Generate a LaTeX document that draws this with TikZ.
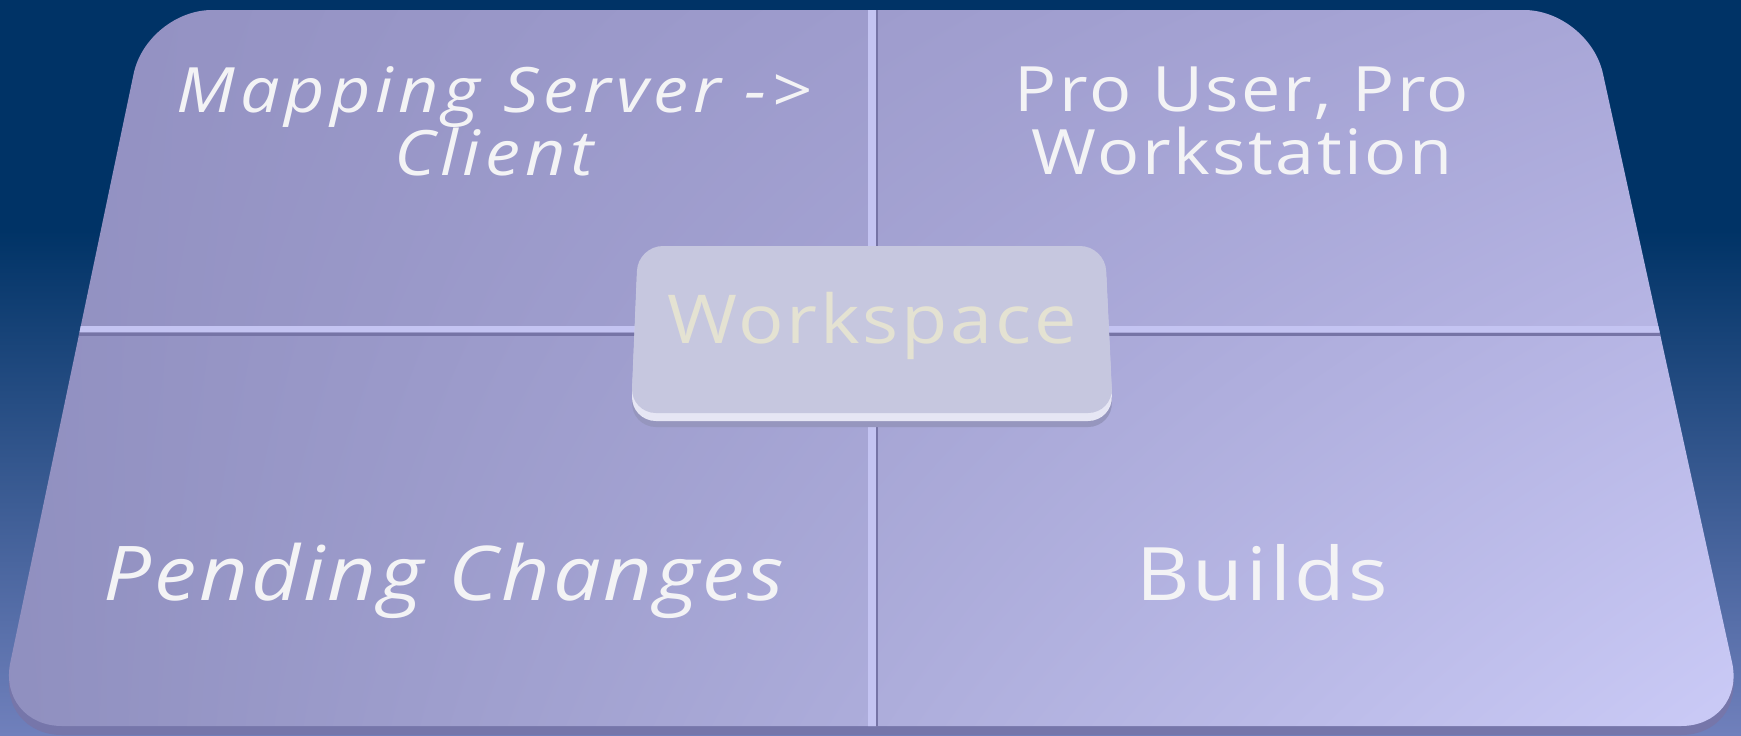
\documentclass[tikz,border=0pt]{standalone}
\usepackage{fontspec}
\usetikzlibrary{shadings}
\setmainfont{Open Sans}[FakeStretch=1.12,LetterSpace=4]
\definecolor{bgnavy}{RGB}{0,51,102}
\definecolor{bglight}{RGB}{112,128,188}
\definecolor{tileUL}{RGB}{146,144,193}
\definecolor{tileUR}{RGB}{170,168,217}
\definecolor{tileLL}{RGB}{143,143,191}
\definecolor{tileLR}{RGB}{203,203,247}
\definecolor{tileedge}{RGB}{118,118,170}
\definecolor{seamlight}{RGB}{196,196,242}
\definecolor{seamdark}{RGB}{118,116,166}
\definecolor{wsface}{RGB}{198,199,223}
\definecolor{wsrim}{RGB}{230,230,244}
\definecolor{wsshade}{RGB}{150,150,190}
\definecolor{wstext}{RGB}{228,226,210}
\definecolor{labeltext}{RGB}{243,243,245}

\begin{document}
\begin{tikzpicture}[x=0.1mm,y=-0.1mm,
    quadlabel/.style={text=labeltext,align=center,inner sep=0pt},
    toplabel/.style={quadlabel,font=\fontsize{17.8}{18}\selectfont},
    bottomlabel/.style={quadlabel,font=\fontsize{21}{22}\selectfont},
    wslabel/.style={text=wstext,inner sep=0pt,font=\fontsize{19.2}{20}\selectfont}]
    \useasboundingbox (0,0) rectangle (1741,735);
    \fill[bgnavy] (0,0) rectangle (1741,735);
    \shade[top color=bgnavy,bottom color=bglight] (0,230) rectangle (1741,735);
    \fill[tileedge,rounded corners=6.5mm] (147,19) -- (1589,19) -- (1746,735) -- (-3,735) -- cycle;
    \shade[upper left=tileUL,upper right=tileUR,lower left=tileLL,lower right=tileLR,rounded corners=6.5mm]
        (147,10) -- (1589,10) -- (1746,726) -- (-3,726) -- cycle;
    \begin{scope}
        \clip[rounded corners=6.5mm] (147,10) -- (1589,10) -- (1746,726) -- (-3,726) -- cycle;
        \draw[seamlight,line width=0.6mm] (0,329) -- (1741,329);
        \draw[seamdark,line width=0.3mm] (0,334.5) -- (1741,334.5);
        \draw[seamlight,line width=0.8mm] (872,0) -- (872,735);
        \draw[seamdark,line width=0.2mm] (877,0) -- (877,735);
    \end{scope}
    \fill[wsshade,rounded corners=2.5mm] (638,258) -- (1105,258) -- (1113,427) -- (631,427) -- cycle;
    \fill[wsrim,rounded corners=2.5mm] (638,252) -- (1105,252) -- (1113,421) -- (631,421) -- cycle;
    \fill[wsface,rounded corners=2.5mm] (638,246) -- (1105,246) -- (1113,413) -- (631,413) -- cycle;
    \node[wslabel] (workspace) at (872,326) {Workspace};
    \node[toplabel,font=\fontsize{17.8}{18}\selectfont\itshape\addfontfeatures{LetterSpace=8}] (mapping) at (494,121) {Mapping Server ->\\Client};
    \node[toplabel] (prouser) at (1242,121) {Pro User, Pro\\Workstation};
    \node[bottomlabel,font=\fontsize{21.5}{22}\selectfont\itshape,anchor=base] (pending) at (444,600) {Pending Changes};
    \node[bottomlabel,anchor=base] (builds) at (1262,600) {Builds};
\end{tikzpicture}
\end{document}
